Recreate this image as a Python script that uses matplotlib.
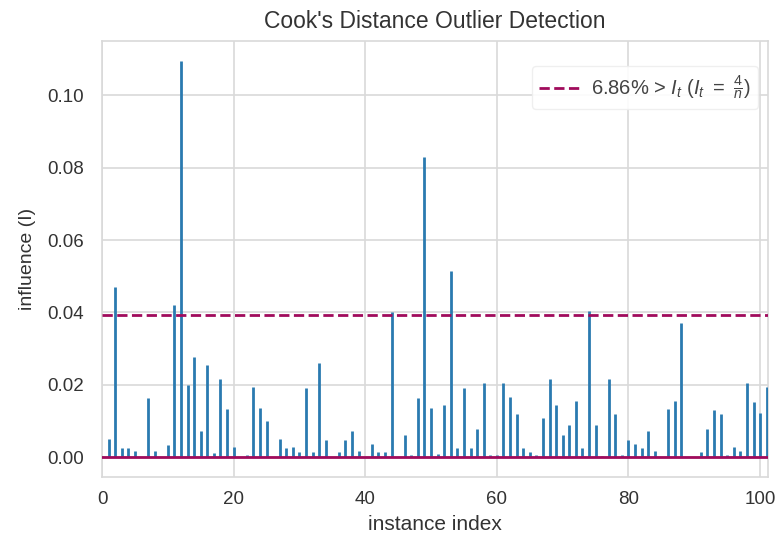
import matplotlib
matplotlib.use("Agg")
import matplotlib.pyplot as plt
import numpy as np

# Cook's distance per instance (index 0..101)
influence = [
    0.0003, 0.0051, 0.0471, 0.0024, 0.0024, 0.0018, 0.0000, 0.0162, 0.0018, 0.0000,
    0.0033, 0.0420, 0.1095, 0.0200, 0.0277, 0.0073, 0.0255, 0.0012, 0.0217, 0.0134,
    0.0029, 0.0000, 0.0007, 0.0195, 0.0136, 0.0101, 0.0000, 0.0051, 0.0024, 0.0029,
    0.0013, 0.0191, 0.0013, 0.0261, 0.0046, 0.0000, 0.0013, 0.0046, 0.0073, 0.0018,
    0.0000, 0.0035, 0.0013, 0.0013, 0.0400, 0.0000, 0.0062, 0.0007, 0.0162, 0.0829,
    0.0136, 0.0009, 0.0145, 0.0514, 0.0024, 0.0191, 0.0024, 0.0079, 0.0206, 0.0007,
    0.0007, 0.0206, 0.0167, 0.0118, 0.0024, 0.0013, 0.0007, 0.0107, 0.0215, 0.0145,
    0.0062, 0.0090, 0.0156, 0.0024, 0.0404, 0.0090, 0.0003, 0.0217, 0.0118, 0.0007,
    0.0046, 0.0035, 0.0024, 0.0073, 0.0018, 0.0000, 0.0134, 0.0156, 0.0370, 0.0000,
    0.0000, 0.0013, 0.0079, 0.0129, 0.0118, 0.0007, 0.0029, 0.0018, 0.0206, 0.0151,
    0.0123, 0.0195,
]
n = len(influence)
threshold = 4 / n
pct_above = 100 * np.mean(np.array(influence) > threshold)

title = "Cook's Distance Outlier Detection"
xlabel = "instance index"
ylabel = "influence (I)"

plt.rcParams['font.family'] = ['Liberation Sans', 'DejaVu Sans']
plt.rcParams['mathtext.fontset'] = 'custom'
plt.rcParams['mathtext.it'] = 'Liberation Sans:italic'
plt.rcParams['mathtext.rm'] = 'Liberation Sans'

fig = plt.figure(figsize=(7.76, 5.40), dpi=100)
ax = fig.add_axes([102/776, 1 - 477/540, (768 - 102)/776, (477 - 41)/540])

blue = "#2a7ab0"
mag = "#a00b5c"

idx = np.arange(n)
ax.vlines(idx, 0, influence, colors=blue, linewidth=2.0, zorder=3)
ax.plot([0, n - 1], [0, 0], color=mag, linewidth=2.0, zorder=4)
ax.axhline(threshold, ls="--", color=mag, lw=2.0, zorder=4,
           label=r"%.2f%% > $I_t$ ($I_t\ =\ \frac{4}{n}$)" % pct_above)

ax.set_xlim(0, 101.2)
ax.set_ylim(-0.0055, 0.1150)
ax.set_xticks([0, 20, 40, 60, 80, 100])
ax.set_yticks([0.00, 0.02, 0.04, 0.06, 0.08, 0.10])
ax.set_yticklabels(["0.00", "0.02", "0.04", "0.06", "0.08", "0.10"])

ax.grid(True, color="#d9d9d9", linewidth=1.2, zorder=0)
ax.set_axisbelow(True)
for s in ax.spines.values():
    s.set_color("#d9d9d9")
    s.set_linewidth(1.2)
ax.tick_params(axis='both', length=0, labelsize=13.5, colors="#333333")
ax.tick_params(axis='y', pad=13)
ax.tick_params(axis='x', pad=10)

ax.set_title(title, fontsize=16.5, color="#333333", pad=9)
ax.set_xlabel(xlabel, fontsize=15, color="#333333", labelpad=5)
ax.set_ylabel(ylabel, fontsize=14, color="#333333", labelpad=8)

leg = ax.legend(loc="upper right", fontsize=14.5, frameon=True, framealpha=0.9,
                edgecolor="#eeeeee", borderpad=0.35, handlelength=2.0,
                handletextpad=0.6, bbox_to_anchor=(1.0, 0.965))
for t in leg.get_texts():
    t.set_color("#444444")

fig.savefig("out.png", dpi=100, facecolor="white")
